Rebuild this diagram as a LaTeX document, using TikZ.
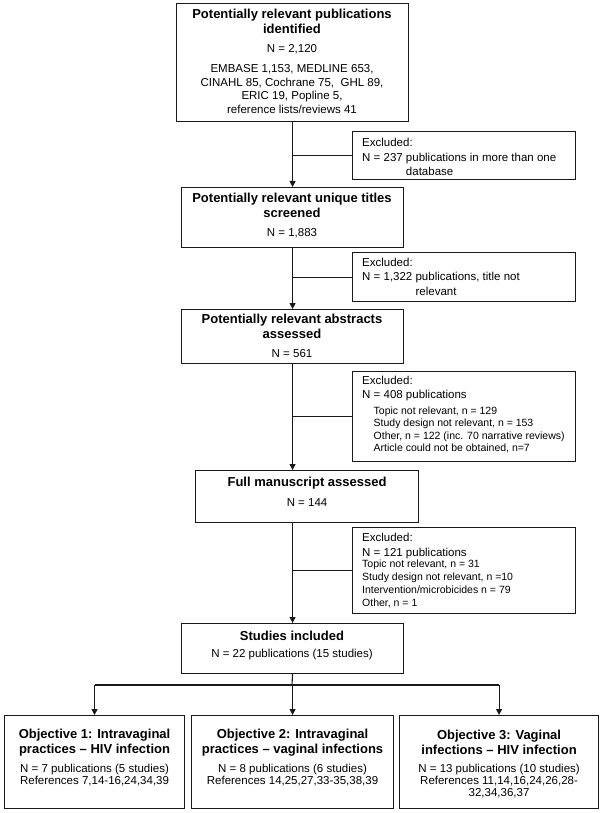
\documentclass[tikz,border=0pt]{standalone}
\usepackage{fontspec}
\setmainfont{Liberation Sans}
\usetikzlibrary{arrows.meta}
\begin{document}
\begin{tikzpicture}[x=1pt,y=-1pt,
  box/.style={draw=black!90,line width=1.1pt,inner sep=0pt,anchor=north west},
  ttl/.style={font=\fontsize{13}{15}\selectfont\bfseries,align=center,inner sep=0pt},
  bdy/.style={font=\fontsize{11.5}{13.5}\selectfont,align=center,inner sep=0pt},
  objb/.style={font=\fontsize{11.5}{12.2}\selectfont,align=center,inner sep=0pt},
  exh/.style={font=\fontsize{11.5}{14.5}\selectfont,align=left,inner sep=0pt,anchor=west},
  exs/.style={font=\fontsize{10.5}{12.4}\selectfont,align=left,inner sep=0pt,anchor=west},
  line/.style={draw=black!90,line width=1.1pt},
  arr/.style={line,-{Triangle[length=6pt,width=6pt]}}]
\fill[white] (0,0) rectangle (603,813);
\useasboundingbox (0,0) rectangle (603,813);

% main boxes
\node[box,minimum width=232pt,minimum height=118pt] (b1) at (176,3) {};
\node[box,minimum width=222pt,minimum height=60pt] (b2) at (181,187) {};
\node[box,minimum width=222pt,minimum height=54pt] (b3) at (181,309) {};
\node[box,minimum width=223pt,minimum height=52pt] (b4) at (195,470) {};
\node[box,minimum width=222pt,minimum height=50pt] (b5) at (181,623) {};

% excluded boxes
\node[box,minimum width=223pt,minimum height=48pt] (x1) at (352,131) {};
\node[box,minimum width=223pt,minimum height=49pt] (x2) at (352,252) {};
\node[box,minimum width=223pt,minimum height=90pt] (x3) at (352,371) {};
\node[box,minimum width=223pt,minimum height=86pt] (x4) at (352,527) {};

% objective boxes
\node[box,minimum width=180pt,minimum height=93pt] (o1) at (4,715) {};
\node[box,minimum width=202pt,minimum height=93pt] (o2) at (191,715) {};
\node[box,minimum width=199pt,minimum height=93pt] (o3) at (399,715) {};

% texts of main boxes
\node[ttl] (t1) at (292,21.5) {Potentially relevant publications\\identified};
\node[bdy] (n1) at (292,49) {N = 2,120};
\node[bdy] (l1) at (292,89) {EMBASE 1,153, MEDLINE 653,\\CINAHL 85, Cochrane 75,\ \ GHL 89,\\ERIC 19, Popline 5,\\reference lists/reviews 41};
\node[ttl] (t2) at (292,205.5) {Potentially relevant unique titles\\screened};
\node[bdy] (n2) at (292,233) {N = 1,883};
\node[ttl] (t3) at (292,326.5) {Potentially relevant abstracts\\assessed};
\node[bdy] (n3) at (292,354) {N = 561};
\node[ttl] (t4) at (b4.center |- 0,483) {Full manuscript assessed};
\node[bdy] (n4) at (b4.center |- 0,503) {N = 144};
\node[ttl] (t5) at (292,636) {Studies included};
\node[bdy] (n5) at (292,655) {N = 22 publications (15 studies)};

% texts of excluded boxes
\node[exh] (e1) at (362,158.5) {\begin{tabular}{@{}l@{ }l@{}}\multicolumn{2}{@{}l@{}}{Excluded:}\\N = 237 & publications in more than one\\ & database\end{tabular}};
\node[exh] (e2) at (362,278) {\begin{tabular}{@{}l@{ }l@{}}\multicolumn{2}{@{}l@{}}{Excluded:}\\N = 1,322 & publications, title not\\ & relevant\end{tabular}};
\node[exh] (e3) at (362,388.7) {Excluded:\\N = 408 publications};
\node[exs] (s3) at (373.5,429.8) {Topic not relevant, n = 129\\Study design not relevant, n = 153\\Other, n = 122 (inc. 70 narrative reviews)\\Article could not be obtained, n=7};
\node[exh] (e4) at (362,546) {Excluded:\\N = 121 publications};
\node[exs,font=\fontsize{10.5}{13}\selectfont] (s4) at (362,583.5) {Topic not relevant, n = 31\\Study design not relevant, n =10\\Intervention/microbicides n = 79\\Other, n = 1};

% texts of objective boxes
\node[ttl] (ot1) at (o1.center |- 0,742.5) {Objective 1: Intravaginal\\practices \textendash{} HIV infection};
\node[objb] (ob1) at (o1.center |- 0,775) {N = 7 publications (5 studies)\\References 7,14-16,24,34,39};
\node[ttl] (ot2) at (o2.center |- 0,742.5) {Objective 2: Intravaginal\\practices \textendash{} vaginal infections};
\node[objb] (ob2) at (o2.center |- 0,775) {N = 8 publications (6 studies)\\References 14,25,27,33-35,38,39};
\node[ttl] (ot3) at (o3.center |- 0,742.5) {Objective 3: Vaginal\\infections \textendash{} HIV infection};
\node[objb] (ob3) at (o3.center |- 0,781) {N = 13 publications (10 studies)\\References 11,14,16,24,26,28-\\32,34,36,37};

% connectors
\draw[arr] (b1.south) -- (b2.north);
\draw[line] (x1.west -| b1.south) -- (x1.west);
\draw[arr] (b2.south) -- (b3.north);
\draw[line] (x2.west -| b2.south) -- (x2.west);
\draw[arr] (b3.south) -- (b3.south |- b4.north);
\draw[line] (x3.west -| b3.south) -- (x3.west);
\draw[arr] (b5.north |- b4.south) -- (b5.north);
\draw[line] (x4.west -| b5.north) -- (x4.west);
\coordinate (split) at (292,685);
\draw[line] (b5.south) -- (split);
\draw[line,line join=miter] (o1.north |- split) -- (o3.north |- split);
\draw[arr] (o1.north |- split) -- (o1.north);
\draw[arr] (split -| o2.north) -- (o2.north);
\draw[arr] (o3.north |- split) -- (o3.north);
\end{tikzpicture}
\end{document}
